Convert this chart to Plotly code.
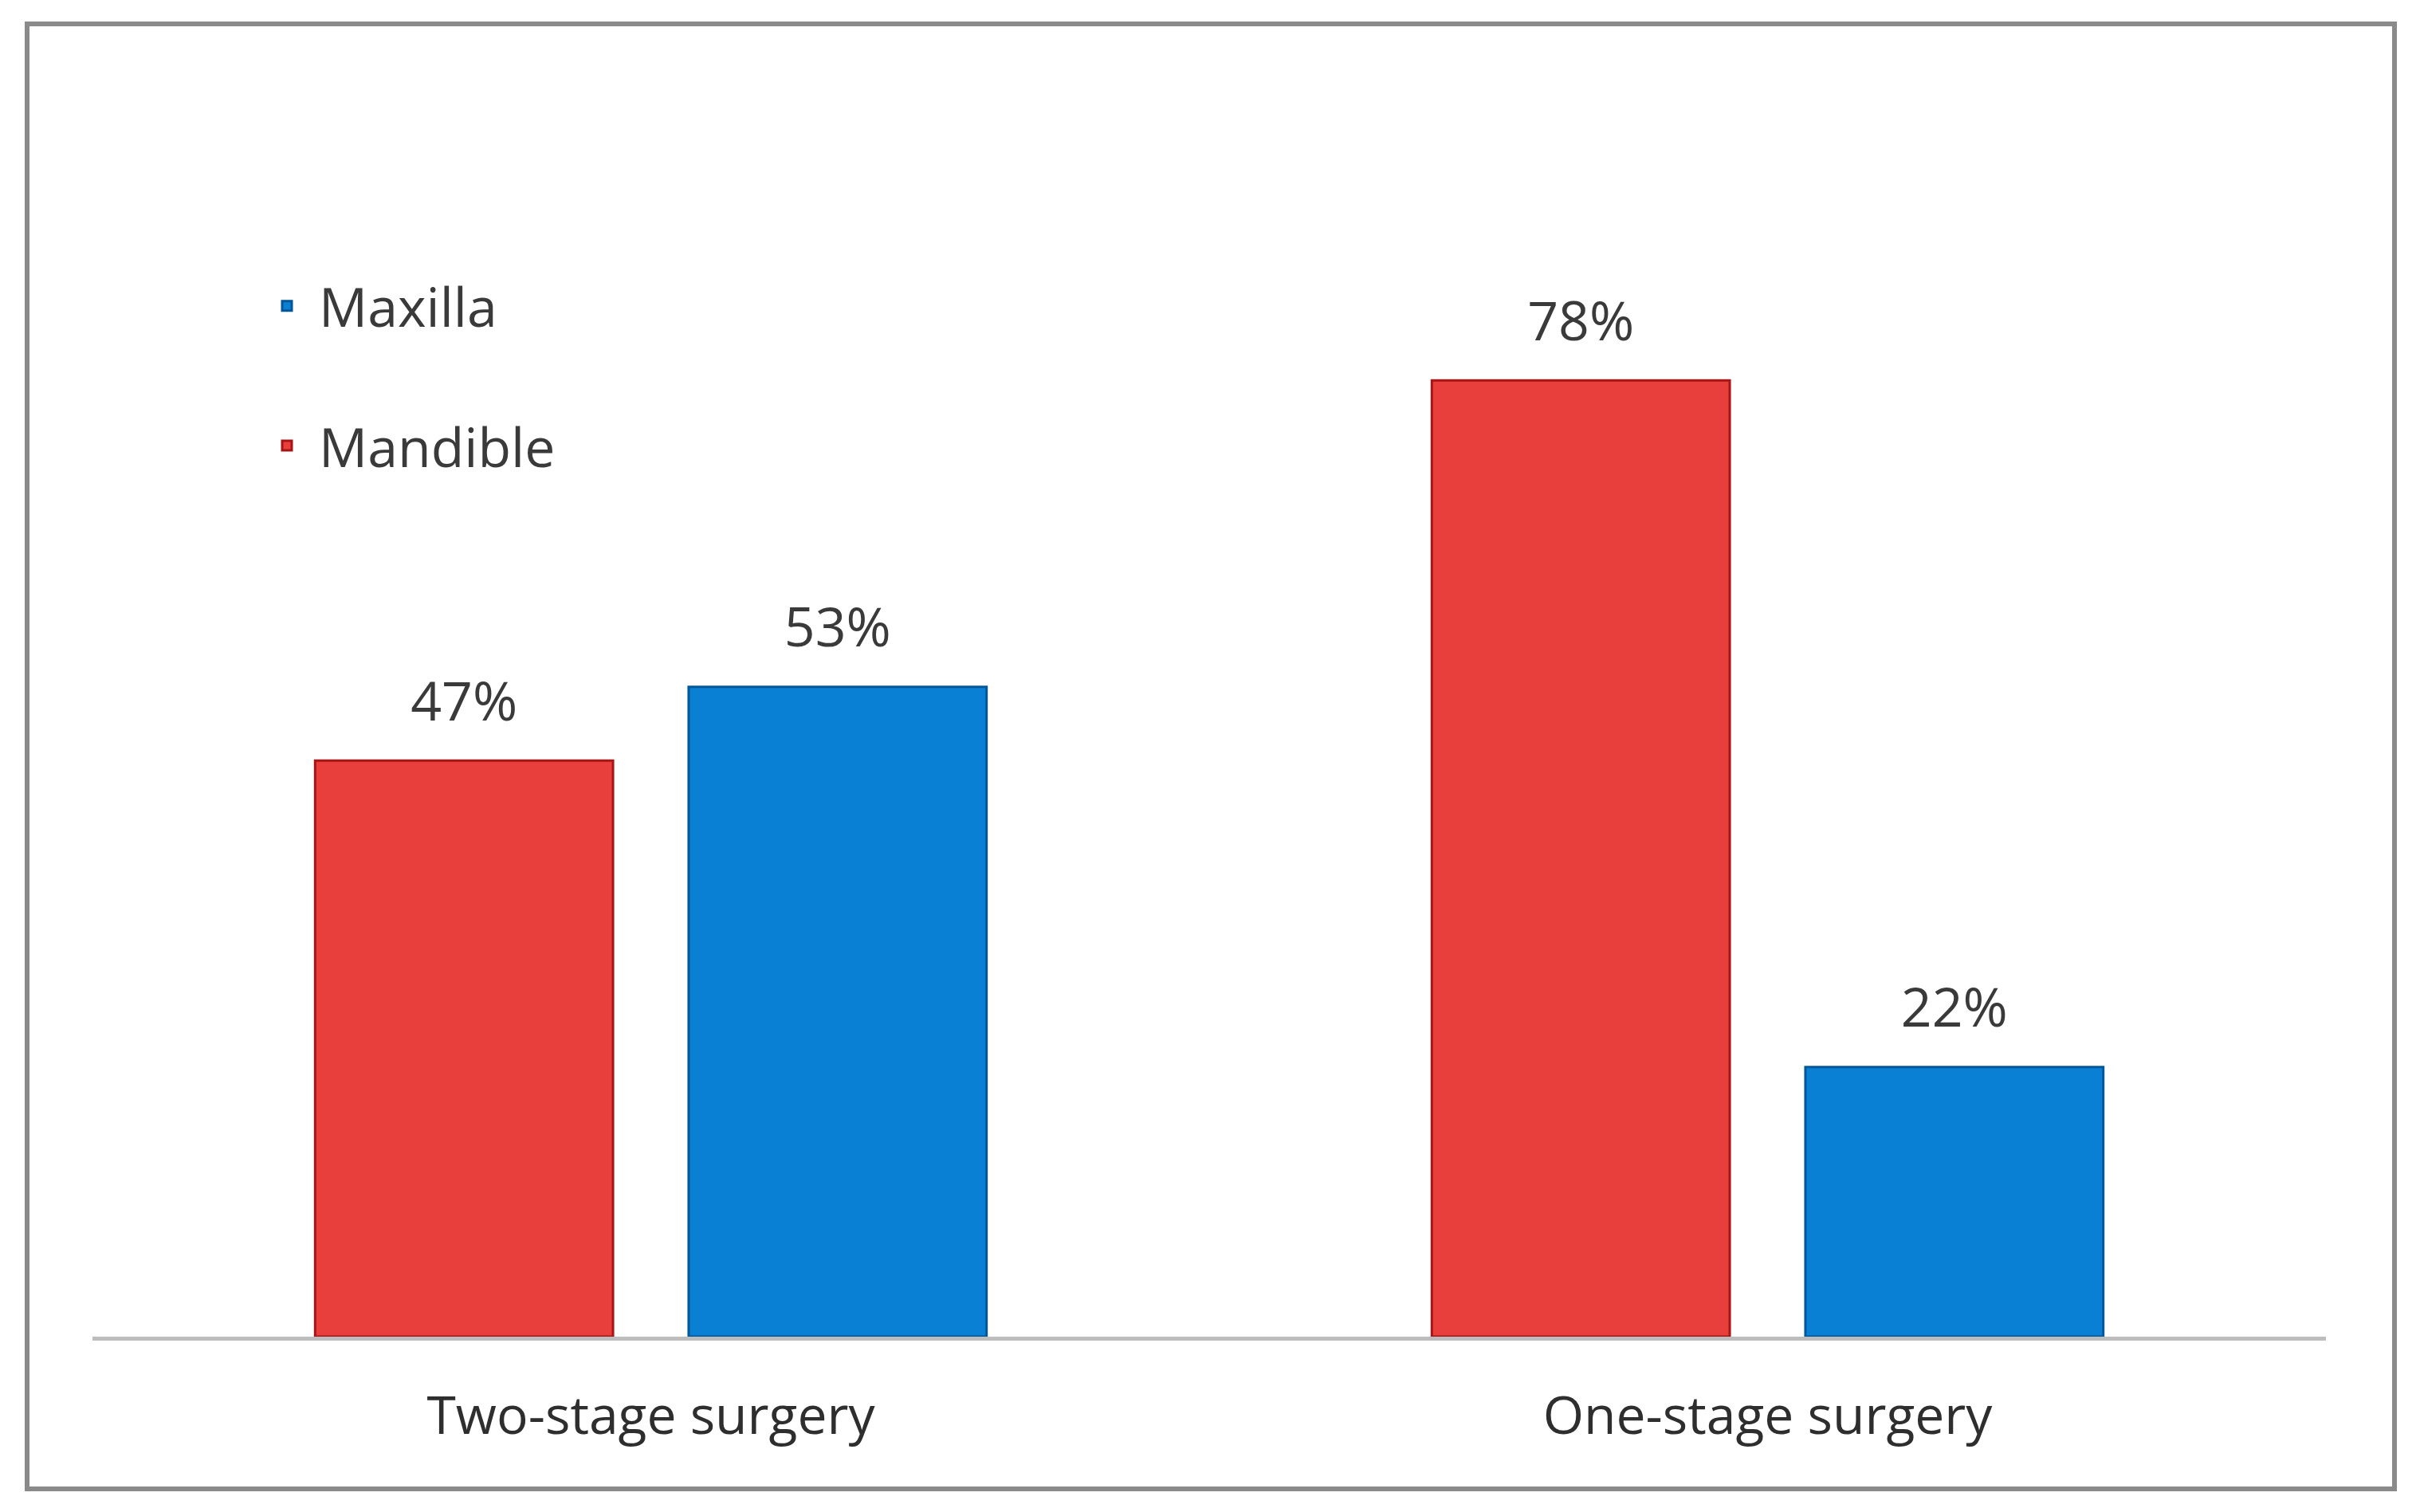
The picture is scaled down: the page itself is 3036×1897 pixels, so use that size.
import plotly.graph_objects as go

categories = ["Two-stage surgery", "One-stage surgery"]
mandible = [47, 78]
maxilla = [53, 22]
mandible_labels = ["47%", "78%"]
maxilla_labels = ["53%", "22%"]

FONT = "Open Sans"
TXT = "#3A3A3A"
RED = "#E83F3C"
RED_EDGE = "#A81515"
BLUE = "#0A80D4"
BLUE_EDGE = "#00579A"

fig = go.Figure()
fig.add_trace(go.Bar(name="Mandible", x=categories, y=mandible, offsetgroup="a",
                     marker=dict(color=RED, line=dict(color=RED_EDGE, width=3)),
                     legendgroup="mand", legendrank=2, hoverinfo="skip"))
fig.add_trace(go.Bar(name="Maxilla", x=categories, y=maxilla, offsetgroup="b",
                     marker=dict(color=BLUE, line=dict(color=BLUE_EDGE, width=3)),
                     legendgroup="max", legendrank=1, hoverinfo="skip"))
fig.add_trace(go.Scatter(x=categories, y=mandible, text=mandible_labels, offsetgroup="a",
                         mode="markers+text", textposition="top center",
                         marker=dict(size=52, opacity=0), showlegend=False,
                         textfont=dict(family=FONT, size=68, color=TXT), cliponaxis=False,
                         hoverinfo="skip"))
fig.add_trace(go.Scatter(x=categories, y=maxilla, text=maxilla_labels, offsetgroup="b",
                         mode="markers+text", textposition="top center",
                         marker=dict(size=52, opacity=0), showlegend=False,
                         textfont=dict(family=FONT, size=68, color=TXT), cliponaxis=False,
                         hoverinfo="skip"))

L, R, T, B = 108, 126, 131, 228
W, H = 3036, 1897
pw, ph = W - L - R, H - T - B

def px(x):
    return (x - L) / pw

def py(y):
    return (H - B - y) / ph

fig.update_layout(
    width=W, height=H,
    margin=dict(l=L, r=R, t=T, b=B, pad=0),
    paper_bgcolor="white", plot_bgcolor="white",
    barmode="group", bargap=0.331, bargroupgap=0.2025,
    scattermode="group", scattergap=0.331,
    font=dict(family=FONT, size=66, color=TXT),
    showlegend=True,
    legend=dict(x=px(312), y=py(325), xanchor="left", yanchor="top",
                traceorder="grouped", tracegroupgap=84, itemwidth=70,
                font=dict(family=FONT, size=68, color=TXT),
                bgcolor="rgba(0,0,0,0)"),
    xaxis=dict(showline=True, linecolor="#BDBDBD", linewidth=5, showgrid=False,
               ticks="", tickfont=dict(family=FONT, size=66, color="#2E2E2E"),
               ticklabelstandoff=38, zeroline=False),
    yaxis=dict(range=[0, 100], visible=False, showgrid=False, zeroline=False),
    shapes=[dict(type="rect", xref="paper", yref="paper",
                 x0=px(26), x1=px(2996), y0=py(1860), y1=py(22),
                 line=dict(color="#8A8A8A", width=6), fillcolor="rgba(0,0,0,0)", layer="below")],
)

fig.write_html("out.html")
